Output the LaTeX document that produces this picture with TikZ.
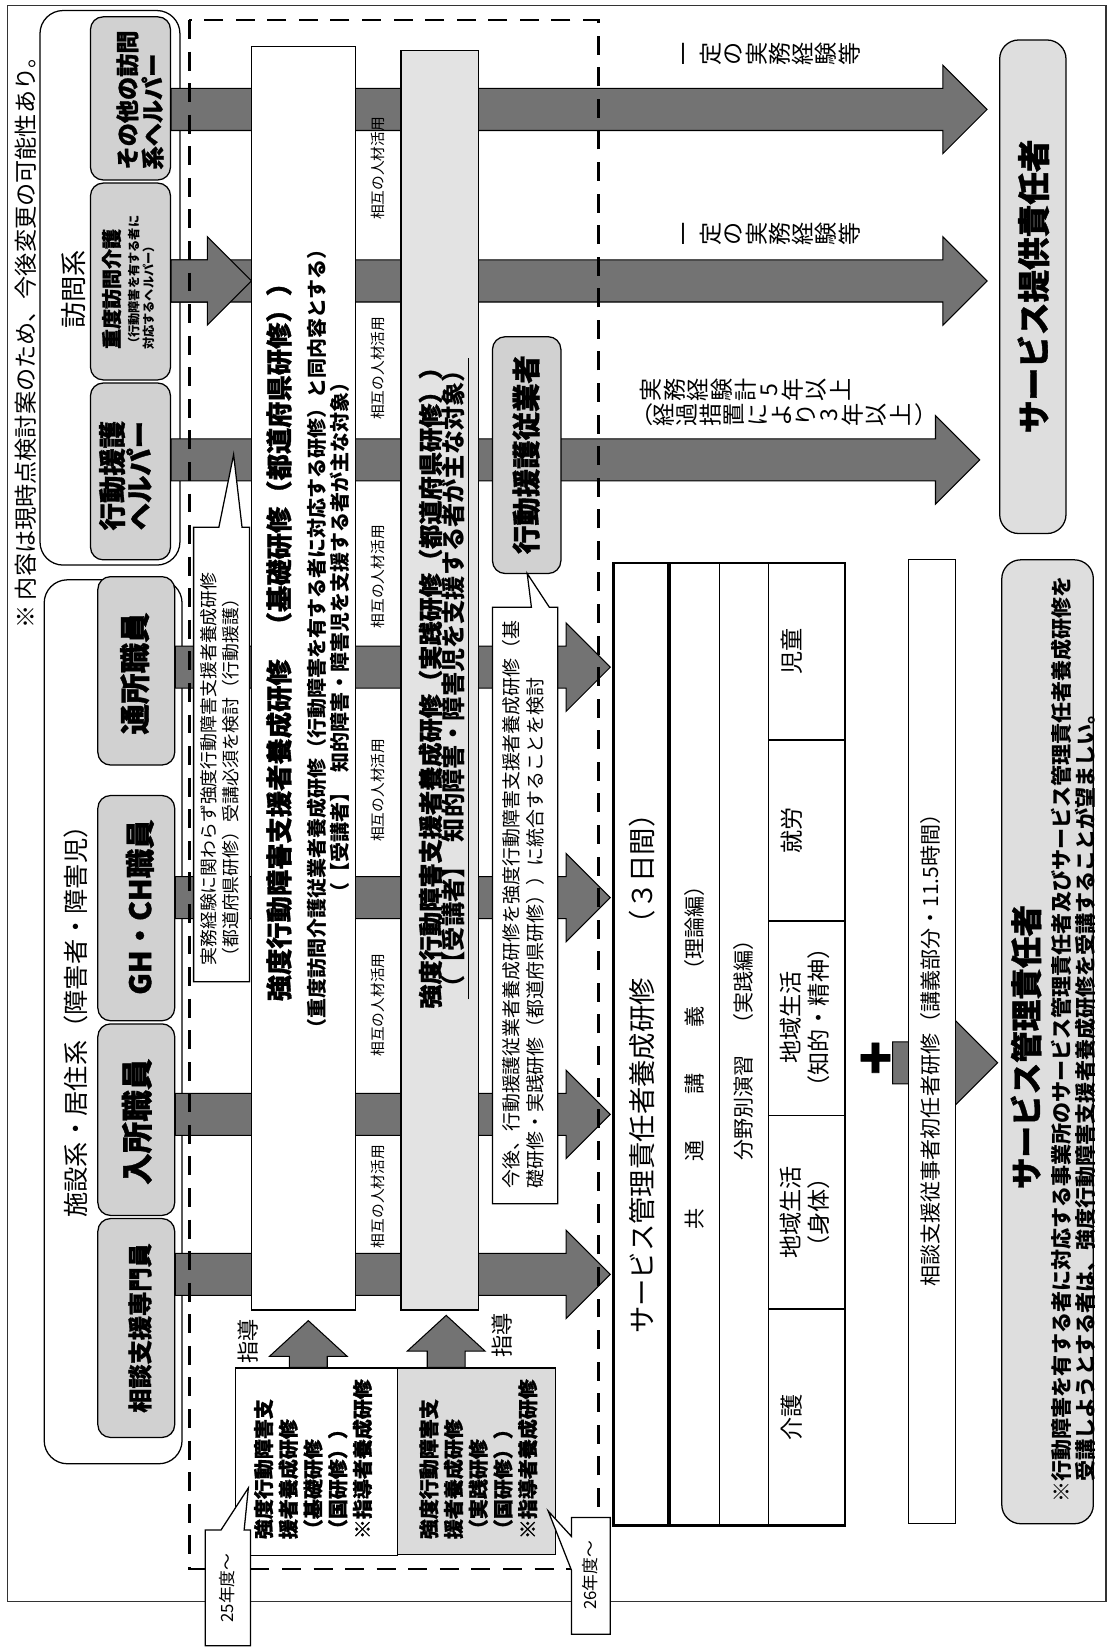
\documentclass[tikz,border=0pt]{standalone}
\usepackage{fontspec}
\setmainfont{Noto Sans CJK JP}
\usetikzlibrary{calc,fit}

\newcommand{\jfs}[2]{\fontsize{#1}{#2}\selectfont}
\newcommand{\heavy}{\bfseries\addfontfeature{FakeBold=1.2}}
% fat block arrows: start point, tip point
\newcommand{\fatarrow}[2]{%
  \filldraw[fatarrow] let \p1=(#1), \p2=(#2) in
    (\x1,\y2+10pt) -- (\x2-21pt,\y2+10pt) -- (\x2-21pt,\y2+21pt) -- (\x2,\y2) --
    (\x2-21pt,\y2-21pt) -- (\x2-21pt,\y2-10pt) -- (\x1,\y2-10pt) -- cycle;}
\newcommand{\fatarrowup}[2]{%
  \filldraw[fatarrow] let \p1=(#1), \p2=(#2) in
    (\x2-9pt,\y1) -- (\x2-9pt,\y2-17pt) -- (\x2-18.5pt,\y2-17pt) -- (\x2,\y2) --
    (\x2+18.5pt,\y2-17pt) -- (\x2+9pt,\y2-17pt) -- (\x2+9pt,\y1) -- cycle;}

\tikzset{
  every node/.style={inner sep=0pt},
  graybox/.style={draw=black, line width=0.6pt, fill=black!18, rounded corners=6pt},
  groupbox/.style={draw=black, line width=0.6pt, fill=white, rounded corners=11pt},
  plainbox/.style={draw=black, line width=0.6pt, fill=white},
  fatarrow/.style={draw=black, line width=0.5pt, fill=black!55},
  callout/.style={draw=black, line width=0.6pt, fill=white},
  areabox/.style={line width=1.4pt, dash pattern=on 9pt off 6pt},
  vtext/.style={rotate=90},
  tate/.style={rotate=90, font=\jfs{11}{11}},
}

\begin{document}
\begin{tikzpicture}[x=0.5pt,y=-0.5pt]
\useasboundingbox (0,0) rectangle (1057,1568);

% frame and memo
\draw[line width=0.5pt, black!80] (7,5) rectangle (1051,1522);
\node[vtext, font=\jfs{11}{11}] (memo) at (24,320) {※ 内容は現時点検討案のため、今後変更の可能性あり。};

% groups
\node[groupbox, fit={(38,10) (171,537)}] (houmon) {};
\node[groupbox, fit={(42,551) (173,1391)}] (shisetsu) {};
\node[vtext, font=\jfs{12.5}{12.5}] (houmon-t) at (70,275) {訪問系};
\node[vtext, font=\jfs{12}{12}] (shisetsu-t) at (72,965) {施設系・居住系（障害者・障害児）};

% staff boxes
\node[graybox, fit={(86,16) (162,171)}] (ohv) {};
\node[graybox, fit={(86,174) (162,361)}] (jhv) {};
\node[graybox, fit={(86,364) (162,532)}] (khv) {};
\node[graybox, fit={(93,548) (166,727)}] (tsusho) {};
\node[graybox, fit={(93,756) (166,970)}] (ghch) {};
\node[graybox, fit={(93,973) (166,1155)}] (nyusho) {};
\node[graybox, fit={(93,1158) (166,1366)}] (soudan) {};

\node[vtext, align=left, font=\jfs{11}{12}\heavy] (ohv-t) at (133,95) {その他の訪問\\系ヘルパー};
\node[vtext, anchor=west, font=\jfs{9.5}{9.5}\heavy] (jhv-1) at (106,332) {重度訪問介護};
\node[vtext, anchor=west, font=\jfs{5.8}{5.8}\bfseries] (jhv-2) at (127,333) {（行動障害を有する者に};
\node[vtext, anchor=west, font=\jfs{5.8}{5.8}\bfseries] (jhv-3) at (141,333) {対応するヘルパー）};
\node[vtext, align=center, font=\jfs{13}{13}\heavy] (khv-t) at (119,452) {行動援護\\ヘルパー};
\node[vtext, font=\jfs{14.5}{14.5}\heavy] (tsusho-t) at (128,640) {通所職員};
\node[vtext, font=\jfs{14}{14}\heavy] (ghch-t) at (133,862) {GH・CH職員};
\node[vtext, font=\jfs{15}{15}\heavy] (nyusho-t) at (130,1066) {入所職員};
\node[vtext, font=\jfs{11.5}{11.5}\heavy] (soudan-t) at (133,1262) {相談支援専門員};

% arrows
\coordinate (t1) at (938,104);
\coordinate (t2) at (938,267);
\coordinate (t2k) at (239,267);
\coordinate (t3) at (931,437);
\coordinate (t4) at (580,634);
\coordinate (t5) at (580,853);
\coordinate (t6) at (580,1059);
\coordinate (t7) at (580,1211);
\fatarrow{ohv.east}{t1}
\fatarrow{jhv.east}{t2}
\fatarrow{jhv.east}{t2k}
\fatarrow{khv.east}{t3}
\fatarrow{tsusho.east}{t4}
\fatarrow{ghch.east}{t5}
\fatarrow{nyusho.east}{t6}
\fatarrow{soudan.east}{t7}

% trainings
\node[plainbox, fit={(239,44) (338,1245)}] (kiso) {};
\node[plainbox, fill=black!11, fit={(381,48) (455,1245)}] (jissen) {};
\node[vtext, font=\jfs{12.5}{12.5}\heavy] (kiso-1) at (265,604) {強度行動障害支援者養成研修\hspace{0.8em}（基礎研修（都道府県研修））};
\node[vtext, font=\jfs{9.5}{9.5}\bfseries] (kiso-2) at (301,607) {（重度訪問介護従業者養成研修（行動障害を有する者に対応する研修）と同内容とする）};
\node[vtext, font=\jfs{9.5}{9.5}\bfseries] (kiso-3) at (323,606) {（【受講者】\hspace{0.5em}知的障害・障害児を支援する者が主な対象）};
\node[vtext, font=\jfs{11.5}{11.5}\heavy] (jissen-1) at (409,648) {強度行動障害支援者養成研修（実践研修（都道府県研修））};
\node[vtext, font=\jfs{11.5}{11.5}\bfseries] (jissen-2) at (433,645) {\underline{（【受講者】\hspace{0.5em}知的障害・障害児を支援する者が主な対象）}};
\foreach \y [count=\i] in {160,350,548,751,955,1137}
  \node[vtext, font=\jfs{7}{7}] (sogo\i) at (359,\y) {相互の人材活用};

% callouts
\draw[callout] (184,933) -- (184,501) -- (208,501) -- (222,432) -- (230,501) -- (237,501) -- (237,933) -- cycle;
\node[vtext, anchor=north west, align=left, font=\jfs{8.5}{10.5}] (jitsumu-t) at (190,918) {実務経験に関わらず強度行動障害支援者養成研修\\（都道府県研修）受講必須を検討（行動援護）};
\node[graybox, fit={(468,320) (533,545)}] (kjugyo) {};
\node[vtext, font=\jfs{13.5}{13.5}\heavy] (kjugyo-t) at (500,432) {行動援護従業者};
\draw[callout] (468,1144) -- (468,577) -- (505,577) -- (501,545) -- (522,577) -- (530,577) -- (530,1144) -- cycle;
\node[vtext, anchor=north west, align=left, font=\jfs{9}{11.5}] (kongo-t) at (477,1130) {今後、行動援護従業者養成研修を強度行動障害支援者養成研修（基\\礎研修・実践研修（都道府県研修））に統合することを検討};

% national trainings
\node[plainbox, fit={(224,1300) (378,1478)}] (b25) {};
\node[plainbox, fill=black!14, fit={(378,1300) (528,1477)}] (b26) {};
\coordinate (u1) at (293,1255);
\coordinate (u2) at (424,1250);
\fatarrowup{b25.north}{u1}
\fatarrowup{b26.north}{u2}
\node[vtext, anchor=north west, align=left, font=\jfs{9.5}{11.75}\heavy] (b25-t) at (241,1463) {強度行動障害支\\援者養成研修\\（基礎研修\\（国研修））\\※指導者養成研修};
\node[vtext, anchor=north west, align=left, font=\jfs{9.5}{11.75}\heavy] (b26-t) at (398,1463) {強度行動障害支\\援者養成研修\\（実践研修\\（国研修））\\※指導者養成研修};
\node[vtext, font=\jfs{10.5}{10.5}] (shido1) at (236,1275) {指導};
\node[vtext, font=\jfs{10.5}{10.5}] (shido2) at (477,1269) {指導};

% dashed area
\draw[areabox] (180,19) rectangle (569,1491);

% year callouts
\draw[callout] (195,1564) -- (195,1454) -- (210,1454) -- (236,1414) -- (232,1454) -- (238,1454) -- (238,1564) -- cycle;
\node[vtext, font=\jfs{8}{8}] (y25) at (216,1509) {25年度～};
\draw[callout] (543,1553) -- (543,1492) -- (521,1436) -- (543,1460) -- (543,1442) -- (580,1442) -- (580,1553) -- cycle;
\node[vtext, font=\jfs{8}{8}] (y26) at (561,1497) {26年度～};

% service manager training table
\draw[line width=1.3pt] (583,535) rectangle (803,1450);
\draw[line width=1.8pt] (636,535) -- (636,1450);
\draw[line width=0.6pt] (684,535) -- (684,1450) (730,535) -- (730,1450);
\draw[line width=0.8pt] (730,703) -- (803,703) (730,875) -- (803,875) (730,1060) -- (803,1060) (730,1244) -- (803,1244);
\node[vtext, font=\jfs{13}{13}] (smt) at (610,1014) {サービス管理責任者養成研修\hspace{1.5em}（３日間）};
\node[vtext, font=\jfs{10}{10}] (kyotsu) at (660,1000) {共\hspace{2.2em}通\hspace{2.2em}講\hspace{2.2em}義\hspace{1.2em}（理論編）};
\node[vtext, font=\jfs{10}{10}] (bunya) at (707,993) {分野別演習\hspace{1em}（実践編）};
\node[vtext, font=\jfs{11}{11}] (jido) at (752,619) {児童};
\node[vtext, font=\jfs{11}{11}] (shuro) at (752,789) {就労};
\node[vtext, align=center, font=\jfs{11}{13}] (chiiki1) at (765,967) {地域生活\\（知的・精神）};
\node[vtext, align=center, font=\jfs{11}{13}] (chiiki2) at (765,1152) {地域生活\\（身体）};
\node[vtext, font=\jfs{11}{11}] (kaigo) at (752,1347) {介護};

% plus and first-time training
\node[font=\jfs{26}{26}\heavy] (plus) at (832,1008) {+};
\coordinate (tp) at (948,1010);
\fatarrow{plus.east}{tp}
\node[plainbox, fit={(863,532) (908,1448)}] (shonin) {};
\node[vtext, font=\jfs{10}{10}] (shonin-t) at (884,993) {相談支援従事者初任者研修（講義部分・11.5時間）};

% goals
\node[graybox, rounded corners=9pt, fill=black!13, fit={(950,38) (1013,507)}] (teikyo) {};
\node[vtext, font=\jfs{15.5}{15.5}\heavy] (teikyo-t) at (982,272) {サービス提供責任者};
\node[graybox, rounded corners=9pt, fill=black!13, fit={(952,532) (1039,1448)}] (kanri) {};
\node[vtext, font=\jfs{15}{15}\heavy] (kanri-t) at (975,995) {サービス管理責任者};
\node[vtext, anchor=north west, align=left, font=\jfs{10}{11.5}\bfseries] (kanri-n) at (998,1428) {※行動障害を有する者に対応する事業所のサービス管理責任者及びサービス管理責任者養成研修を\\\hspace{1em}受講しようとする者は、強度行動障害支援者養成研修を受講することが望ましい。};

% experience labels (vertical writing)
\foreach \kj [count=\i] in {一,定,の,実,務,経,験,等} {
  \node[tate] (ka\i) at (631+22*\i,51) {\kj};
  \node[tate] (kb\i) at (631+22*\i,222) {\kj};
}
\foreach \kj [count=\i] in {実,務,経,験,計,5,年,以,上}
  \node[tate] (kc\i) at (596+22.5*\i,371) {\kj};
\node[font=\jfs{11}{11}] (kd0) at (610,394) {（};
\foreach \kj [count=\i] in {経,過,措,置,に,よ,り,3,年,以,上}
  \node[tate] (kd\i) at (608+22.5*\i,394) {\kj};
\node[font=\jfs{11}{11}] (kd12) at (880,394) {）};

\end{tikzpicture}
\end{document}
